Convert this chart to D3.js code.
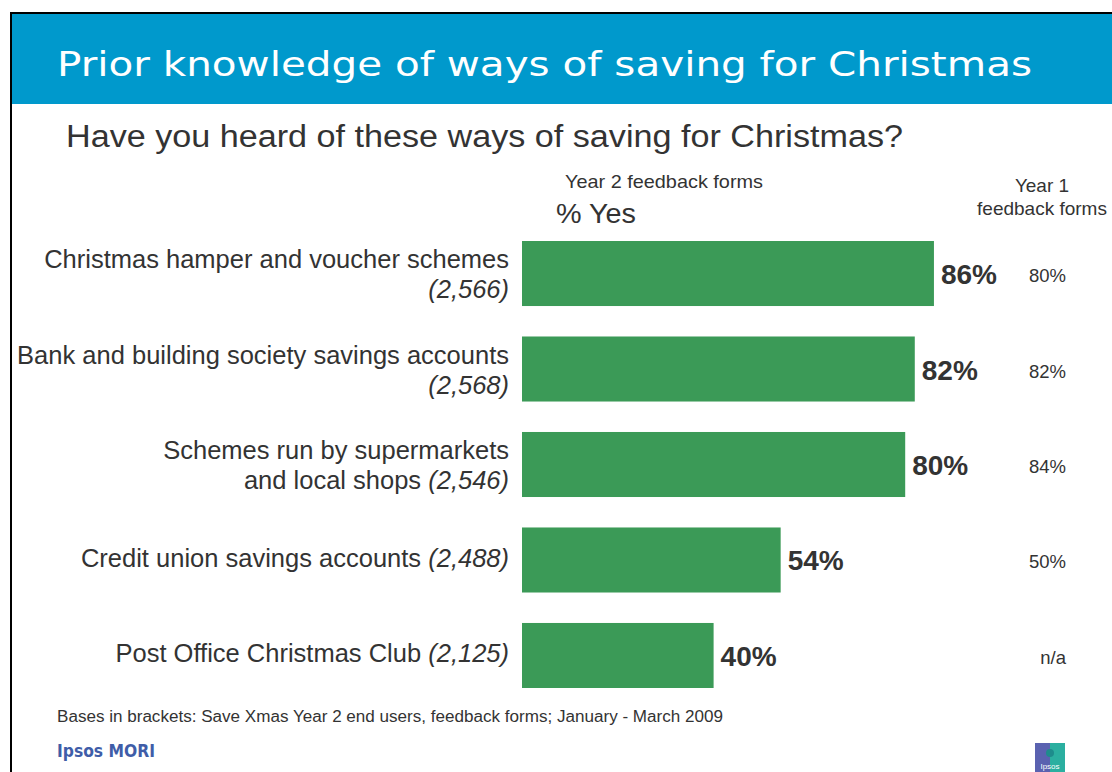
<!DOCTYPE html>
<html>
<head>
<meta charset="utf-8">
<script src="https://cdn.jsdelivr.net/npm/d3@7"></script>
<style>
  html, body { margin: 0; padding: 0; background: #fff; }
  svg { display: block; }
</style>
</head>
<body>
<svg id="chart" width="1112" height="772"></svg>
<script>
// Awareness of Christmas saving methods
const labelLines = [
  ["Christmas hamper and voucher schemes"],
  ["Bank and building society savings accounts"],
  ["Schemes run by supermarkets", "and local shops"],
  ["Credit union savings accounts"],
  ["Post Office Christmas Club"]
];
const bases = ["(2,566)", "(2,568)", "(2,546)", "(2,488)", "(2,125)"];
const year2Values = [86, 82, 80, 54, 40];
const year1Labels = ["80%", "82%", "84%", "50%", "n/a"];

const svg = d3.select("#chart");
const W = 1112, H = 772;
const textCol = "#333333";
const barCol = "#3B9A57";
const sans = "Liberation Sans, Arial, sans-serif";

// Slide frame
svg.append("rect").attr("x", 0).attr("y", 0).attr("width", W).attr("height", H).attr("fill", "#fff");
svg.append("rect").attr("x", 11).attr("y", 13).attr("width", W - 11).attr("height", 91).attr("fill", "#0099CC");
svg.append("line").attr("x1", 11).attr("x2", 11).attr("y1", 12).attr("y2", H).attr("stroke", "#000").attr("stroke-width", 2);
svg.append("line").attr("x1", 10).attr("x2", W).attr("y1", 13).attr("y2", 13).attr("stroke", "#000").attr("stroke-width", 2);

svg.append("text").attr("x", 57).attr("y", 76)
  .attr("font-family", "DejaVu Sans, Verdana, sans-serif").attr("font-size", 33)
  .attr("fill", "#fff").attr("textLength", 975).attr("lengthAdjust", "spacingAndGlyphs")
  .text("Prior knowledge of ways of saving for Christmas");

svg.append("text").attr("x", 66).attr("y", 147)
  .attr("font-family", sans).attr("font-size", 31)
  .attr("textLength", 837).attr("lengthAdjust", "spacingAndGlyphs")
  .attr("fill", textCol).text("Have you heard of these ways of saving for Christmas?");

const hdr = svg.append("g").attr("font-family", sans).attr("fill", textCol);
hdr.append("text").attr("x", 565).attr("y", 188).attr("font-size", 19)
  .attr("textLength", 198).attr("lengthAdjust", "spacingAndGlyphs").text("Year 2 feedback forms");
hdr.append("text").attr("x", 556).attr("y", 223).attr("font-size", 27)
  .attr("textLength", 80).attr("lengthAdjust", "spacingAndGlyphs").text("% Yes");
hdr.append("text").attr("x", 1042).attr("y", 192).attr("font-size", 19).attr("text-anchor", "middle").text("Year 1");
hdr.append("text").attr("x", 1042).attr("y", 215).attr("font-size", 19).attr("text-anchor", "middle").text("feedback forms");

// Scales
const x = d3.scaleLinear().domain([0, 100]).range([522, 1001]);
const y = d3.scaleBand().domain(d3.range(year2Values.length)).range([241, 688]).paddingInner(0.319).paddingOuter(0);

const rows = svg.append("g").selectAll("g").data(year2Values).join("g");

rows.append("rect")
  .attr("x", x(0))
  .attr("y", (d, i) => y(i))
  .attr("width", d => x(d) - x(0))
  .attr("height", y.bandwidth())
  .attr("fill", barCol);

rows.append("text")
  .attr("x", d => x(d) + 7)
  .attr("y", (d, i) => y(i) + y.bandwidth() / 2 + 10.5)
  .attr("font-family", sans).attr("font-size", 28).attr("font-weight", "bold")
  .attr("fill", textCol).text(d => d + "%");

rows.append("text")
  .attr("x", 1066)
  .attr("y", (d, i) => y(i) + y.bandwidth() / 2 + 8.5)
  .attr("text-anchor", "end")
  .attr("font-family", sans).attr("font-size", 18.5)
  .attr("fill", textCol).text((d, i) => year1Labels[i]);

// Category labels: base size shown in italics, on its own line when the label is long
rows.each(function(d, i) {
  const g = d3.select(this);
  const cy = y(i) + y.bandwidth() / 2;
  const lines = labelLines[i];
  const t = g.append("text").attr("text-anchor", "end")
    .attr("font-family", sans).attr("font-size", 25.5).attr("fill", textCol);
  if (lines.length === 1 && i < 2) {
    t.append("tspan").attr("x", 509).attr("y", cy - 5.5).text(lines[0]);
    t.append("tspan").attr("x", 509).attr("y", cy + 24.5).attr("font-style", "italic").text(bases[i]);
  } else if (lines.length === 2) {
    t.append("tspan").attr("x", 509).attr("y", cy - 5.5).text(lines[0]);
    const t2 = t.append("tspan").attr("x", 509).attr("y", cy + 24.5);
    t2.append("tspan").text(lines[1] + " ");
    t2.append("tspan").attr("font-style", "italic").text(bases[i]);
  } else {
    t.append("tspan").attr("x", 509).attr("y", cy + 7).text(lines[0] + " ");
    t.append("tspan").attr("font-style", "italic").text(bases[i]);
  }
});

// Footer
svg.append("text").attr("x", 57).attr("y", 722)
  .attr("font-family", sans).attr("font-size", 16)
  .attr("textLength", 666).attr("lengthAdjust", "spacingAndGlyphs")
  .attr("fill", textCol).text("Bases in brackets: Save Xmas Year 2 end users, feedback forms; January - March 2009");
svg.append("text").attr("x", 57).attr("y", 757)
  .attr("font-family", "DejaVu Sans, Verdana, sans-serif").attr("font-size", 18).attr("font-weight", "bold")
  .attr("fill", "#3F5DA8").attr("textLength", 98).attr("lengthAdjust", "spacingAndGlyphs").text("Ipsos MORI");

// Small logo mark
const logo = svg.append("g").attr("transform", "translate(1035,743)");
logo.append("rect").attr("x", 0).attr("y", 0).attr("width", 15).attr("height", 29).attr("fill", "#5A62B0");
logo.append("rect").attr("x", 15).attr("y", 0).attr("width", 15).attr("height", 29).attr("fill", "#2BAFA0");
logo.append("circle").attr("cx", 15).attr("cy", 10).attr("r", 4).attr("fill", "#1E8C8C");
logo.append("text").attr("x", 15).attr("y", 26).attr("text-anchor", "middle")
  .attr("font-family", sans).attr("font-size", 8).attr("fill", "#fff").text("Ipsos");
</script>
</body>
</html>
